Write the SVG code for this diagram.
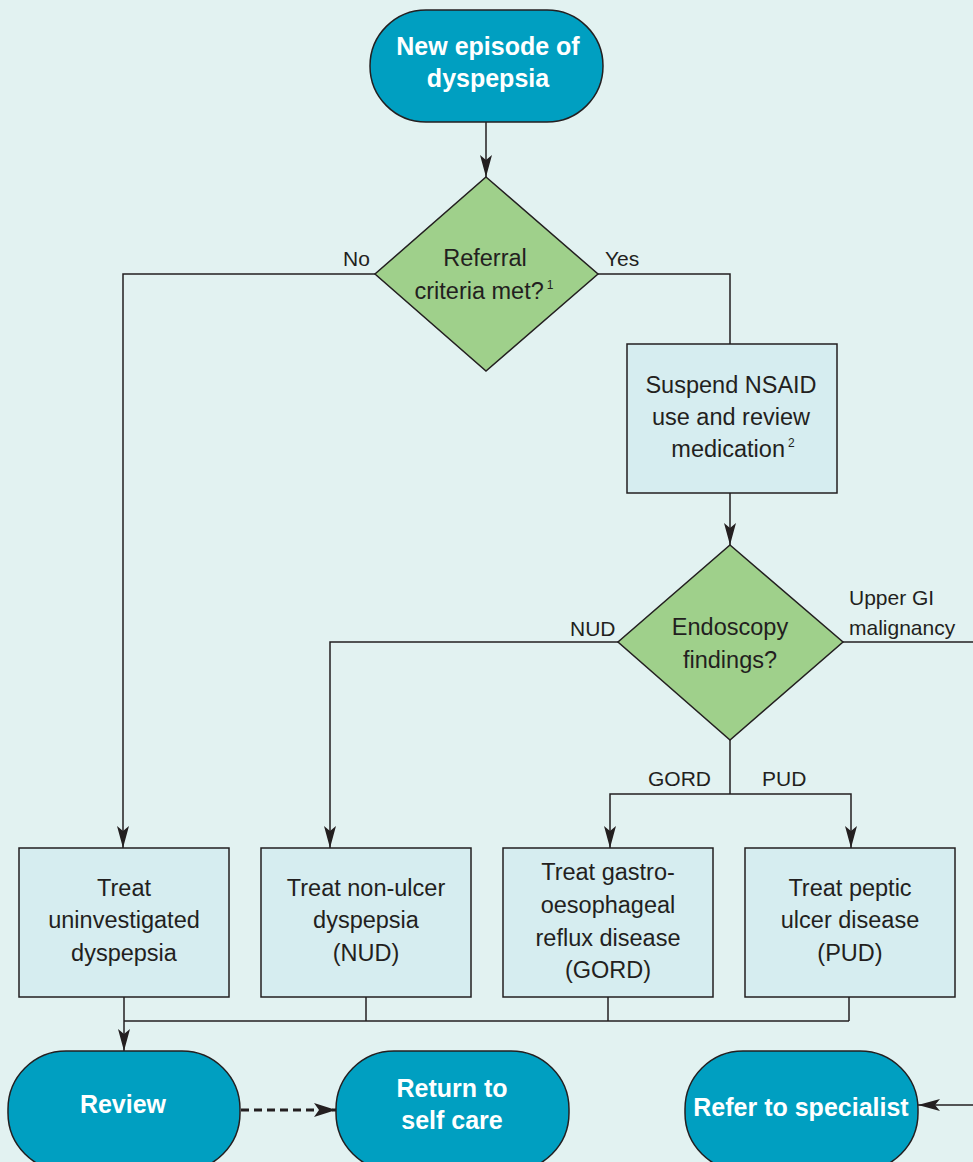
<svg xmlns="http://www.w3.org/2000/svg" width="973" height="1162" viewBox="0 0 973 1162">
<defs>
<marker id="ah" viewBox="0 0 22 12" refX="22" refY="6" markerWidth="22" markerHeight="12" markerUnits="userSpaceOnUse" orient="auto">
<path d="M0,0 L22,6 L0,12 L5,6 Z" fill="#231f20"/>
</marker>
<marker id="ahL" viewBox="0 0 22 14" refX="22" refY="7" markerWidth="22" markerHeight="14" markerUnits="userSpaceOnUse" orient="auto">
<path d="M0,0 L22,7 L0,14 L5,7 Z" fill="#231f20"/>
</marker>
<style>
.term{fill:#009fc1;stroke:#231f20;stroke-width:1.5}
.dia{fill:#9fd08b;stroke:#231f20;stroke-width:1.5}
.box{fill:#d6edf0;stroke:#231f20;stroke-width:1.5}
.ln{fill:none;stroke:#231f20;stroke-width:1.5}
.dash{fill:none;stroke:#231f20;stroke-width:3;stroke-dasharray:8,5}
.tt{font-family:"Liberation Sans",Arial,sans-serif;font-weight:bold;font-size:25px;fill:#ffffff;text-anchor:middle}
.t{font-family:"Liberation Sans",Arial,sans-serif;font-size:23.5px;fill:#231f20;text-anchor:middle}
.lb{font-family:"Liberation Sans",Arial,sans-serif;font-size:21px;fill:#231f20}
.sup{font-size:12px}
</style>
</defs>
<rect x="0" y="0" width="973" height="1162" fill="#e2f2f1"/>

<g id="connectors">
<path class="ln" d="M486,122 V177" marker-end="url(#ah)"/>
<path class="ln" d="M375,274 H123 V848" marker-end="url(#ah)"/>
<path class="ln" d="M598,274 H730 V344"/>
<path class="ln" d="M730,493 V545" marker-end="url(#ah)"/>
<path class="ln" d="M618,642 H330 V848" marker-end="url(#ah)"/>
<path class="ln" d="M843,642 H973"/>
<path class="ln" d="M730,740 V794"/>
<path class="ln" d="M730,794 H610 V848" marker-end="url(#ah)"/>
<path class="ln" d="M730,794 H851 V848" marker-end="url(#ah)"/>
<path class="ln" d="M124,997 V1051" marker-end="url(#ah)"/>
<path class="ln" d="M124,1021 H849"/>
<path class="ln" d="M366,997 V1021"/>
<path class="ln" d="M608,997 V1021"/>
<path class="ln" d="M849,997 V1021"/>
<path class="ln" d="M973,1105 H918" marker-end="url(#ah)"/>
<path class="dash" d="M241,1110 H336" marker-end="url(#ahL)"/>
<text class="lb" x="343" y="266">No</text>
<text class="lb" x="605" y="266">Yes</text>
<text class="lb" x="570" y="636">NUD</text>
<text class="lb" x="849" y="605">Upper GI</text>
<text class="lb" x="849" y="635">malignancy</text>
<text class="lb" x="648" y="786">GORD</text>
<text class="lb" x="762" y="786">PUD</text>
</g>

<g id="start">
<rect class="term" x="370" y="10" width="233" height="112" rx="56" ry="56"/>
<text class="tt" x="488" y="55">New episode of</text>
<text class="tt" x="488" y="87">dyspepsia</text>
</g>

<g id="referral">
<polygon class="dia" points="486,177 598,274 486,371 375,274"/>
<text class="t" x="485" y="266">Referral</text>
<text class="t" x="484" y="299">criteria met?<tspan class="sup" dx="3" dy="-10">1</tspan></text>
</g>

<g id="suspend">
<rect class="box" x="627" y="344" width="210" height="149"/>
<text class="t" x="731" y="393">Suspend NSAID</text>
<text class="t" x="731" y="425">use and review</text>
<text class="t" x="733" y="457">medication<tspan class="sup" dx="3" dy="-10">2</tspan></text>
</g>

<g id="endoscopy">
<polygon class="dia" points="730,545 843,642 730,740 618,642"/>
<text class="t" x="730" y="635">Endoscopy</text>
<text class="t" x="730" y="668">findings?</text>
</g>

<g id="treat-uninvestigated">
<rect class="box" x="19" y="848" width="210" height="149"/>
<text class="t" x="124" y="896">Treat</text>
<text class="t" x="124" y="928">uninvestigated</text>
<text class="t" x="124" y="961">dyspepsia</text>
</g>

<g id="treat-nud">
<rect class="box" x="261" y="848" width="210" height="149"/>
<text class="t" x="366" y="896">Treat non-ulcer</text>
<text class="t" x="366" y="928">dyspepsia</text>
<text class="t" x="366" y="961">(NUD)</text>
</g>

<g id="treat-gord">
<rect class="box" x="503" y="848" width="210" height="149"/>
<text class="t" x="608" y="880">Treat gastro-</text>
<text class="t" x="608" y="913">oesophageal</text>
<text class="t" x="608" y="946">reflux disease</text>
<text class="t" x="608" y="978">(GORD)</text>
</g>

<g id="treat-pud">
<rect class="box" x="745" y="848" width="210" height="149"/>
<text class="t" x="850" y="896">Treat peptic</text>
<text class="t" x="850" y="928">ulcer disease</text>
<text class="t" x="850" y="961">(PUD)</text>
</g>

<g id="review">
<rect class="term" x="8" y="1051" width="232" height="120" rx="58" ry="58"/>
<text class="tt" x="123" y="1113">Review</text>
</g>

<g id="selfcare">
<rect class="term" x="336" y="1051" width="233" height="120" rx="58" ry="58"/>
<text class="tt" x="452" y="1097">Return to</text>
<text class="tt" x="452" y="1129">self care</text>
</g>

<g id="specialist">
<rect class="term" x="685" y="1051" width="233" height="120" rx="58" ry="58"/>
<text class="tt" x="801" y="1116" font-size="24">Refer to specialist</text>
</g>
</svg>
